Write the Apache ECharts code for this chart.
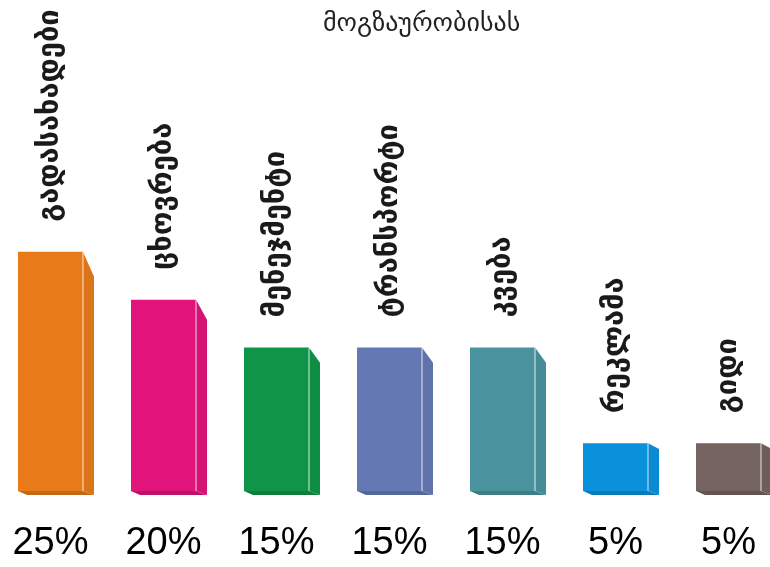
<!DOCTYPE html>
<html>
<head>
<meta charset="utf-8">
<script src="https://cdn.jsdelivr.net/npm/echarts@6/dist/echarts.min.js"></script>
<style>html,body{margin:0;padding:0;background:#fff;}#c{width:770px;height:567px;}</style>
</head>
<body>
<div id="c"></div>
<script>
const categories = ['გადასახადები','ცხოვრება','მენეჯმენტი','ტრანსპორტი','კვება','რეკლამა','გიდი'];
const values = [25, 20, 15, 15, 15, 5, 5];
const colors = ['#E87A1A','#E0147A','#109447','#6478B4','#4A939E','#0A91DC','#74635E'];
const titleText = 'მოგზაურობისას';

function shade(hex, f){
  const n = parseInt(hex.slice(1),16);
  const r = Math.round(((n>>16)&255)*f), g = Math.round(((n>>8)&255)*f), b = Math.round((n&255)*f);
  return 'rgb('+r+','+g+','+b+')';
}

const chart = echarts.init(document.getElementById('c'), null, {renderer:'canvas'});
chart.setOption({
  backgroundColor:'#fff',
  animation:false,
  title:{text:titleText,left:318,top:6,textStyle:{fontFamily:'DejaVu Sans',fontSize:26,fontWeight:'normal',color:'#222'}},
  grid:{left:50.5,right:41.5,top:204,bottom:76},
  xAxis:{type:'category',data:categories,boundaryGap:false,axisLine:{show:false},axisTick:{show:false},
    axisLabel:{interval:0,margin:53,verticalAlign:'middle',fontFamily:'Liberation Sans',fontSize:38,color:'#000',
      formatter:(v,i)=>values[i]+'%'}},
  yAxis:{type:'value',min:0,max:30,show:false,splitLine:{show:false}},
  series:[{
    type:'custom',
    clip:false,
    data:values.map((v,i)=>[i,v]),
    encode:{x:0,y:1},
    renderItem:function(params, api){
      const i = api.value(0);
      const top = api.coord([i, api.value(1)]);
      const base = api.coord([i, 0]);
      const w = 65, dx = 11;
      const xl = top[0]-w/2, xr = top[0]+w/2, yt = top[1], yb = base[1];
      const h = yb-yt;
      const drop = h*0.1+1;
      const c = colors[i];
      return {type:'group',children:[
        {type:'polygon',shape:{points:[[xl,yb],[xr,yb],[xr+dx,yb+4],[xl+9,yb+4]]},style:{fill:shade(c,0.85)}},
        {type:'polygon',shape:{points:[[xr,yt],[xr+dx,yt+drop],[xr+dx,yb+4],[xr,yb]]},style:{fill:shade(c,0.95)}},
        {type:'rect',shape:{x:xl,y:yt,width:w,height:h},style:{fill:c}},
        {type:'line',shape:{x1:xr,y1:yt,x2:xr,y2:yb},style:{stroke:'rgba(255,255,255,0.7)',lineWidth:1.2}},
        {type:'text',x:top[0],y:yt-30,rotation:Math.PI/2,
          style:{text:categories[i],textAlign:'left',textVerticalAlign:'middle',fontFamily:'DejaVu Sans',fontWeight:'bold',fontSize:29,fill:'#1a1a1a'}}
      ]};
    }
  }]
});
</script>
</body>
</html>
